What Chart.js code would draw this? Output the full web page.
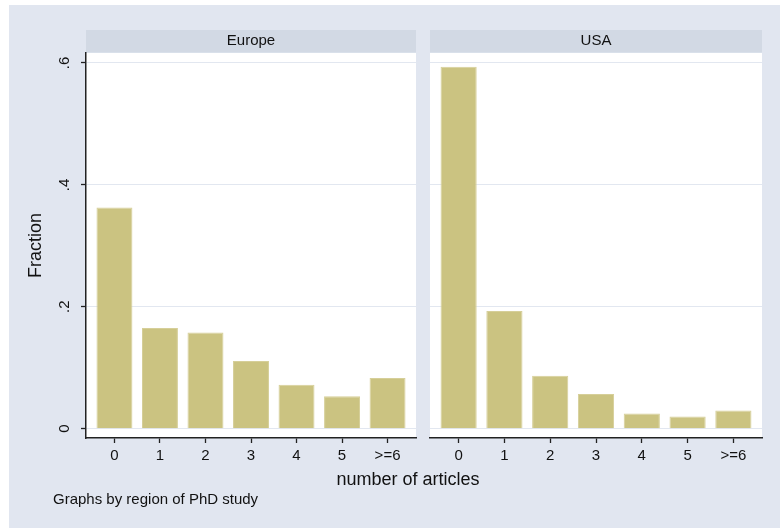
<!DOCTYPE html>
<html>
<head>
<meta charset="utf-8">
<script src="https://cdn.jsdelivr.net/npm/chart.js@4.4.1/dist/chart.umd.min.js"></script>
<style>
  html, body { margin: 0; padding: 0; background: #fff; }
  #wrap { position: relative; width: 780px; height: 528px; overflow: hidden; background: #fff; }
  #bg { position: absolute; left: 9px; top: 5px; right: 0; bottom: 0; background: #e1e6f0; }
  canvas { position: absolute; top: 0; }
  #cEur { left: 0; width: 420px; height: 528px; }
  #cUsa { left: 420px; width: 360px; height: 528px; }
  .lbl { position: absolute; font-family: "Liberation Sans", Arial, sans-serif; color: #111; white-space: nowrap; }
  #xtitle { left: 408px; top: 479px; transform: translate(-50%, -50%); font-size: 18px; }
  #note { left: 53px; top: 498px; transform: translateY(-50%); font-size: 15px; }
</style>
</head>
<body>
<div id="wrap">
  <div id="bg"></div>
  <canvas id="cEur" width="420" height="528"></canvas>
  <canvas id="cUsa" width="360" height="528"></canvas>
  <div class="lbl" id="xtitle">number of articles</div>
  <div class="lbl" id="note">Graphs by region of PhD study</div>
</div>
<script>
// Number of published articles, fraction of graduates per bin
const categories = ['0', '1', '2', '3', '4', '5', '>=6'];
const europe = [0.363, 0.165, 0.158, 0.111, 0.072, 0.053, 0.083];
const usa = [0.594, 0.193, 0.087, 0.057, 0.025, 0.020, 0.030];
const yTickValues = [0, 0.2, 0.4, 0.6];
const yTickLabels = ['0', '.2', '.4', '.6'];

const FONT = '"Liberation Sans", Arial, sans-serif';
const INK = '#111';
const AXIS = '#222';

// header strip above each panel and the white plot region
const panelBackdrop = {
  id: 'panelBackdrop',
  beforeDraw(chart) {
    const { ctx, chartArea: a } = chart;
    const t = chart.titleBlock;
    ctx.save();
    ctx.fillStyle = '#d2d9e4';
    ctx.fillRect(a.left, t.top, a.right - a.left, t.bottom - t.top - 0.5);
    ctx.fillStyle = '#ffffff';
    ctx.fillRect(a.left, a.top, a.right - a.left, a.bottom - a.top);
    ctx.restore();
  }
};

function makePanel(canvasId, title, values, withYAxis, yWidth, padRight) {
  const yAxis = {
    min: -0.0153,
    max: 0.6164,
    afterBuildTicks: s => { s.ticks = yTickValues.map(v => ({ value: v })); },
    afterFit: s => { s.width = yWidth; },
    grid: {
      color: '#e2e7f0',
      lineWidth: 1,
      drawTicks: withYAxis,
      tickLength: 5,
      tickColor: AXIS,
      tickWidth: 1.3
    },
    border: { display: withYAxis, color: AXIS, width: 1.5 },
    ticks: {
      display: withYAxis,
      minRotation: 90,
      maxRotation: 90,
      crossAlign: 'center',
      padding: 10,
      color: INK,
      font: { family: FONT, size: 15 },
      callback: (v, i) => yTickLabels[i]
    },
    title: {
      display: withYAxis,
      text: 'Fraction',
      color: INK,
      font: { family: FONT, size: 18 },
      padding: { top: 25, bottom: 0 }
    }
  };

  return new Chart(document.getElementById(canvasId), {
    type: 'bar',
    data: {
      datasets: [{
        data: values.map((v, i) => ({ x: i, y: v })),
        backgroundColor: '#cbc381',
        borderColor: '#d6cf99',
        borderWidth: 1,
        categoryPercentage: 1,
        barPercentage: 0.79
      }]
    },
    options: {
      responsive: false,
      devicePixelRatio: 1,
      animation: false,
      layout: { padding: { top: 30, right: padRight, left: 0, bottom: 0 } },
      plugins: {
        legend: { display: false },
        tooltip: { enabled: false },
        title: {
          display: true,
          text: title,
          fullSize: false,
          color: INK,
          font: { family: FONT, size: 15, weight: 'normal' },
          padding: { top: 2, bottom: 3 }
        }
      },
      scales: {
        x: {
          type: 'linear',
          offset: false,
          min: -0.625,
          max: 6.625,
          afterBuildTicks: s => { s.ticks = categories.map((c, i) => ({ value: i })); },
          afterFit: s => { s.height = 90; },
          grid: { offset: false, drawOnChartArea: false, drawTicks: true, tickLength: 5, tickColor: AXIS, tickWidth: 1.3 },
          border: { display: true, color: AXIS, width: 1.5 },
          ticks: {
            color: INK,
            font: { family: FONT, size: 15 },
            padding: 4,
            maxRotation: 0,
            autoSkip: false,
            callback: (v, i) => categories[i]
          }
        },
        y: yAxis
      }
    },
    plugins: [panelBackdrop]
  });
}

makePanel('cEur', 'Europe', europe, true, 86, 4);
makePanel('cUsa', 'USA', usa, false, 10, 18);
</script>
</body>
</html>
